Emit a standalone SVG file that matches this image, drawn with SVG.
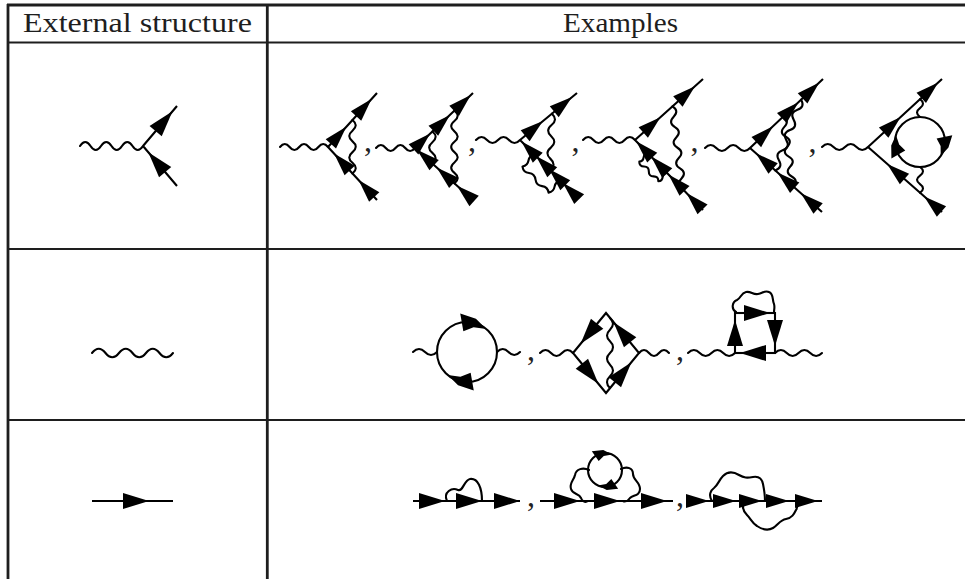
<svg xmlns="http://www.w3.org/2000/svg" width="965" height="579" viewBox="0 0 965 579">
<style>
.tb{stroke:#1e1e1e;fill:none}
.f{stroke:#000;stroke-width:2.1;fill:none}
.w{stroke:#000;stroke-width:2.1;fill:none;stroke-linejoin:round;stroke-linecap:round}
.ah{fill:#000}
.hd{font-family:"Liberation Serif","Times New Roman",serif;font-size:26.5px;fill:#1e1e1e}
.cm{font-family:"Liberation Serif","Times New Roman",serif;font-size:32px;fill:#222}
</style>
<defs>
<polygon id="A" class="ah" points="0,0 -26,-8 -26,8"/>
<polygon id="a" class="ah" points="0,0 -23,-7 -23,7"/>
</defs>
<rect width="965" height="579" fill="#fff"/>

<g id="table">
<path class="tb" stroke-width="3" d="M7,5 H965"/>
<path class="tb" stroke-width="2.2" d="M7,42.5 H965"/>
<path class="tb" stroke-width="2.2" d="M7,249 H965"/>
<path class="tb" stroke-width="2.2" d="M7,420 H965"/>
<path class="tb" stroke-width="2.8" d="M8,4 V579"/>
<path class="tb" stroke-width="2.8" d="M267.3,4 V579"/>
<text class="hd" x="23" y="32" textLength="229" lengthAdjust="spacingAndGlyphs">External structure</text>
<text class="hd" x="563" y="32" textLength="115" lengthAdjust="spacingAndGlyphs">Examples</text>
</g>

<g id="ext-vertex">
<path class="w" d="M80,146 q5.25,-8 10.5,0 t10.5,0 t10.5,0 t10.5,0 t10.5,0 t10.5,0"/>
<path class="f" d="M143,146 L177,106 M143,146 L177,186"/>
<use href="#A" transform="translate(172.5,111.3) rotate(-49.6)"/>
<use href="#A" transform="translate(148.3,152.3) rotate(-130.4)"/>
</g>

<g id="ext-photon">
<path class="w" d="M92,353 q6.75,-8.5 13.5,0 t13.5,0 t13.5,0 t13.5,0 t13.5,0 t13.5,0"/>
</g>

<g id="ext-fermion">
<path class="f" d="M92,501 H173"/>
<use href="#A" transform="translate(149,501)"/>
</g>

<g id="v1">
<path class="w" d="M280,147 q4.8,-6 9.6,0 t9.6,0 t9.6,0 t9.6,0 t9.6,0"/>
<path class="f" d="M328,147 L377,93 M328,147 L377,200"/>
<path class="w" transform="translate(352.5,120) rotate(90)" d="M0,0 q5.35,-6.5 10.7,0 t10.7,0 t10.7,0 t10.7,0 t10.7,0"/>
<use href="#a" transform="translate(346.3,126.8) rotate(-47.8)"/>
<use href="#a" transform="translate(371.5,99) rotate(-47.8)"/>
<use href="#a" transform="translate(334.1,153.6) rotate(-132.8)"/>
<use href="#a" transform="translate(358.6,180.1) rotate(-132.8)"/>
</g>

<g id="v2">
<path class="w" d="M376,148 q4.875,-6 9.75,0 t9.75,0 t9.75,0 t9.75,0"/>
<path class="f" d="M415,148 L473,93 M415,148 L473,200"/>
<path class="w" transform="translate(432.4,131.5) rotate(90)" d="M0,0 q5.35,-6.5 10.7,0 t10.7,0 t10.7,0"/>
<path class="w" transform="translate(454.44,110.6) rotate(90)" d="M0,0 q5.2,-6.5 10.39,0 t10.39,0 t10.39,0 t10.39,0 t10.39,0 t10.39,0 t10.39,0"/>
<use href="#a" transform="translate(430.2,133.6) rotate(-43.5)"/>
<use href="#a" transform="translate(450,114.9) rotate(-43.5)"/>
<use href="#a" transform="translate(470.8,95.1) rotate(-43.5)"/>
<use href="#a" transform="translate(417,149.8) rotate(-138.1)"/>
<use href="#a" transform="translate(436.7,167.5) rotate(-138.1)"/>
<use href="#a" transform="translate(457,185.7) rotate(-138.1)"/>
</g>

<g id="v3">
<path class="w" d="M476,140 q5.5,-6 11,0 t11,0 t11,0 t11,0"/>
<path class="f" d="M520,140 L577,93 M520,140 L578,198"/>
<path class="w" transform="translate(551.92,113.68) rotate(91.8)" d="M0,0 q5.65,-6.5 11.3,0 t11.3,0 t11.3,0 t11.3,0 t11.3,0"/>
<path class="w" transform="translate(534.5,154.5) rotate(45)" d="M0,0 q-3,4.25 0,8.5 t0,8.5 q4.61,3.5 9.225,0 t9.225,0 t9.225,0 t9.225,0 q3,-4.25 0,-8.5 t0,-8.5"/>
<use href="#a" transform="translate(542.9,121.1) rotate(-39.5)"/>
<use href="#a" transform="translate(572,97.1) rotate(-39.5)"/>
<use href="#a" transform="translate(521.5,141.5) rotate(-135)"/>
<use href="#a" transform="translate(536,156) rotate(-135)"/>
<use href="#a" transform="translate(549,169) rotate(-135)"/>
<use href="#a" transform="translate(562.9,182.9) rotate(-135)"/>
</g>

<g id="v4">
<path class="w" d="M583,140 q5.2,-6 10.4,0 t10.4,0 t10.4,0 t10.4,0 t10.4,0"/>
<path class="f" d="M635,140 L703,79 M635,140 L703,210"/>
<path class="w" transform="translate(672.4,106.45) rotate(82.96)" d="M0,0 q5.2,-6.5 10.4,0 t10.4,0 t10.4,0 t10.4,0 t10.4,0 t10.4,0 t10.4,0 t10.4,0"/>
<path class="w" transform="translate(647.92,153.3) rotate(45.8)" d="M0,0 q-2.5,3 0,6 t0,6 q3.41,3.5 6.825,0 t6.825,0 t6.825,0 t6.825,0 q2.5,-3 0,-6 t0,-6"/>
<use href="#a" transform="translate(660.4,117.2) rotate(-41.9)"/>
<use href="#a" transform="translate(695,86.2) rotate(-41.9)"/>
<use href="#a" transform="translate(636.2,141.2) rotate(-134.2)"/>
<use href="#a" transform="translate(651.2,156.6) rotate(-134.2)"/>
<use href="#a" transform="translate(668.5,174.5) rotate(-134.2)"/>
<use href="#a" transform="translate(686.5,193) rotate(-134.2)"/>
</g>

<g id="v5">
<path class="w" d="M705,148 q5.625,-6 11.25,0 t11.25,0 t11.25,0 t11.25,0"/>
<path class="f" d="M750,148 L823,79 M750,148 L822,212"/>
<path class="w" transform="translate(782.85,116.95) rotate(81.5)" d="M0,0 q5.015,-6.5 10.03,0 t10.03,0 t10.03,0 t10.03,0 t10.03,0 t10.03,0 t10.03,0"/>
<path class="w" transform="translate(801.1,99.7) rotate(110.1)" d="M0,0 q5.38,-6.5 10.756,0 t10.756,0 t10.756,0 t10.756,0 t10.756,0 t10.756,0 t10.756,0"/>
<use href="#a" transform="translate(773,126.3) rotate(-43.4)"/>
<use href="#a" transform="translate(798.5,102.2) rotate(-43.4)"/>
<use href="#a" transform="translate(819.3,82.5) rotate(-43.4)"/>
<use href="#a" transform="translate(755.9,153.2) rotate(-138.4)"/>
<use href="#a" transform="translate(777.5,172.4) rotate(-138.4)"/>
<use href="#a" transform="translate(800.9,193.2) rotate(-138.4)"/>
</g>

<g id="v6">
<path class="w" d="M822,147 q5.75,-6 11.5,0 t11.5,0 t11.5,0 t11.5,0"/>
<path class="f" d="M868,147 L942,79 M868,147 L942,212"/>
<circle class="f" cx="920" cy="142" r="25"/>
<path class="w" transform="translate(920,99.2) rotate(90)" d="M0,0 q4.45,-6 8.9,0 t8.9,0"/>
<path class="w" transform="translate(920,167) rotate(90)" d="M0,0 q4.283,-6 8.567,0 t8.567,0 t8.567,0"/>
<polygon class="ah" points="891.42,158.5 891.22,145.54 895.97,135.11 899.16,144.56 905.28,150.5"/>
<polygon class="ah" points="952.28,135.14 948.47,147.53 940.73,155.98 940.61,146.01 936.63,138.47"/>
<use href="#a" transform="translate(900.6,117) rotate(-42.6)"/>
<use href="#a" transform="translate(938.2,82.4) rotate(-42.6)"/>
<use href="#a" transform="translate(887.2,163.9) rotate(-138.7)"/>
<use href="#a" transform="translate(924.2,196.4) rotate(-138.7)"/>
</g>

<g id="p1">
<path class="w" d="M413,352 q6,-6 12,0 t12,0"/>
<path class="w" d="M497,352 q5.75,-6 11.5,0 t11.5,0"/>
<circle class="f" cx="467" cy="352" r="30"/>
<polygon class="ah" points="460.23,313.59 475.93,318.68 486.28,329.02 473.6,327.37 463.35,331.32"/>
<polygon class="ah" points="473.77,390.41 458.07,385.32 447.72,374.98 460.4,376.63 470.65,372.68"/>
</g>

<g id="p2">
<path class="w" d="M540,353 q5.5,-6 11,0 t11,0 t11,0"/>
<path class="w" d="M639,353 q5,-6 10,0 t10,0 t10,0"/>
<polygon class="f" points="573,353 606,313 639,353 606,393"/>
<path class="w" transform="translate(610,318) rotate(90)" d="M0,0 q5.833,-6 11.667,0 t11.667,0 t11.667,0 t11.667,0 t11.667,0 t11.667,0"/>
<use href="#A" transform="translate(580.6,343.8) rotate(129.5)"/>
<use href="#A" transform="translate(613.6,322.2) rotate(-129.5)"/>
<use href="#A" transform="translate(598.4,383.8) rotate(50.5)"/>
<use href="#A" transform="translate(631.4,362.2) rotate(-50.5)"/>
</g>

<g id="p3">
<path class="w" d="M688,353 q5.875,-6 11.75,0 t11.75,0 t11.75,0 t11.75,0"/>
<path class="w" d="M775,353 q5.875,-6 11.75,0 t11.75,0 t11.75,0 t11.75,0"/>
<rect class="f" x="735" y="313" width="40" height="40"/>
<path class="w" d="M736,312 C731,309 732,302 737,300 C741,298 741,293 746,292 C751,291 753,295 758,294 C763,293 765,290 769,292 C774,294 772,300 774,304 C775,307 774,310 774,312"/>
<use href="#A" transform="translate(735,320) rotate(-90)"/>
<use href="#A" transform="translate(770,313)"/>
<use href="#A" transform="translate(775,346) rotate(90)"/>
<use href="#A" transform="translate(740,353) rotate(180)"/>
</g>

<g id="s1">
<path class="f" d="M413,501 H520"/>
<path class="w" d="M447,501 C443,492 452,487 458,490 C463,492 464,480 470,479 C478,478 482,488 482,501"/>
<use href="#A" transform="translate(445,501)"/>
<use href="#A" transform="translate(482,501)"/>
<use href="#A" transform="translate(520,501)"/>
</g>

<g id="s2">
<path class="f" d="M540,501 H673"/>
<circle class="f" cx="605" cy="470" r="17"/>
<path class="w" d="M589,470 C583,467 576,469 575,475 C574,480 569,483 571,489 C573,495 579,493 581,498 C582,501 585,503 588,501"/>
<path class="w" d="M621,469 C627,466 633,468 633,474 C633,480 640,482 640,489 C640,496 633,495 630,498 C628,501 625,502 623,501"/>
<polygon class="ah" points="591.81,451.16 603.26,450.08 612.18,454.59 603.78,456.05 598.69,460.99"/>
<polygon class="ah" points="618.19,488.84 606.74,489.92 597.82,485.41 606.22,483.95 611.31,479.01"/>
<use href="#A" transform="translate(580,501)"/>
<use href="#A" transform="translate(620,501)"/>
<use href="#A" transform="translate(667,501)"/>
</g>

<g id="s3">
<path class="f" d="M688,501 H822"/>
<path class="w" d="M712,501 C708,495 711,490 714,488 C718,485 719,480 723,476 C728,471 734,472 739,475 C744,478 747,478 753,477 C759,476 762,479 763,484 C764,489 765,495 765,501"/>
<path class="w" d="M745,501 C741,507 744,512 747,515 C751,519 752,523 757,526 C763,530 768,531 773,528 C778,525 780,520 786,519 C792,518 794,514 796,510 C798,507 798,504 798,501"/>
<use href="#a" transform="translate(709,501)"/>
<use href="#a" transform="translate(736,501)"/>
<use href="#a" transform="translate(762,501)"/>
<use href="#a" transform="translate(789,501)"/>
<use href="#a" transform="translate(818,501)"/>
</g>

<g id="commas">
<text class="cm" x="368" y="151" text-anchor="middle">,</text>
<text class="cm" x="472" y="151" text-anchor="middle">,</text>
<text class="cm" x="575.5" y="151" text-anchor="middle">,</text>
<text class="cm" x="694.5" y="151" text-anchor="middle">,</text>
<text class="cm" x="812.5" y="152" text-anchor="middle">,</text>
<text class="cm" x="531" y="360" text-anchor="middle">,</text>
<text class="cm" x="680" y="360" text-anchor="middle">,</text>
<text class="cm" x="531" y="506" text-anchor="middle">,</text>
<text class="cm" x="680" y="506" text-anchor="middle">,</text>
</g>
</svg>
